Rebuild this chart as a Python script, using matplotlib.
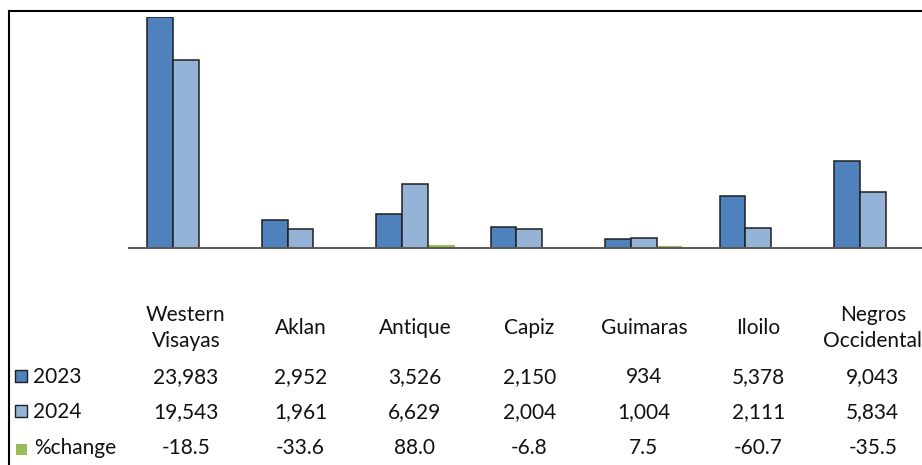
import matplotlib
matplotlib.use('Agg')
import matplotlib.pyplot as plt
import matplotlib.transforms as mtransforms
from matplotlib.lines import Line2D
from matplotlib.patches import Rectangle
import numpy as np

categories = ["Western\nVisayas", "Aklan", "Antique", "Capiz", "Guimaras", "Iloilo", "Negros\nOccidental"]
values_2023 = [23983, 2952, 3526, 2150, 934, 5378, 9043]
values_2024 = [19543, 1961, 6629, 2004, 1004, 2111, 5834]
pct_change = [-18.5, -33.6, 88.0, -6.8, 7.5, -60.7, -35.5]
series_names = ["2023", "2024", "%change"]

C23 = '#4F81BD'
C24 = '#95B3D7'
CPC = '#9BBB59'
EDGE = '#1f1f1f'
TXT = '#111111'
FONT = 'Lato'
FS = 15

W, H = 922, 465
fig = plt.figure(figsize=(W / 100, H / 100), dpi=100)
fx = lambda px: px / W
fy = lambda py: 1 - py / H

ax = fig.add_axes([fx(128.75), fy(248), fx(930 - 128.75), 231 / H])
x = np.arange(len(categories))
bw = 0.225
ax.bar(x - bw, values_2023, bw, color=C23, edgecolor=EDGE, linewidth=1.1, zorder=1)
ax.bar(x, values_2024, bw, color=C24, edgecolor=EDGE, linewidth=1.1, zorder=1)
# negative bars lie hidden beneath the axis line (as in the reference)
green_lw = [3.0 if p > 0 else 0.0 for p in pct_change]
ax.bar(x + bw, pct_change, bw * 0.93, color=CPC, edgecolor=CPC, linewidth=green_lw, zorder=0.5)
ax.set_xlim(-0.5, len(categories) - 0.5)
ax.set_ylim(0, 24000)
for s in ['top', 'right', 'left']:
    ax.spines[s].set_visible(False)
ax.spines['bottom'].set_color('#595959')
ax.spines['bottom'].set_linewidth(1.4)
ax.set_xticks([])
ax.set_yticks([])
ax.patch.set_alpha(0)

trans = mtransforms.blended_transform_factory(ax.transData, fig.transFigure)

# category labels
for xi, cat in zip(x, categories):
    lines = cat.split('\n')
    if len(lines) == 2:
        fig.text(xi, fy(320.7), lines[0], transform=trans, ha='center', va='baseline',
                 fontsize=FS, family=FONT, color=TXT)
        fig.text(xi, fy(346.7), lines[1], transform=trans, ha='center', va='baseline',
                 fontsize=FS, family=FONT, color=TXT)
    else:
        fig.text(xi, fy(334.3), lines[0], transform=trans, ha='center', va='baseline',
                 fontsize=FS, family=FONT, color=TXT)

rows = [
    (series_names[0], [f"{v:,}" for v in values_2023], 382.7, C23, True),
    (series_names[1], [f"{v:,}" for v in values_2024], 417.7, C24, True),
    (series_names[2], [f"{v:.1f}" for v in pct_change], 454.3, CPC, False),
]
for name, vals, base, col, outline in rows:
    for xi, s in zip(x, vals):
        fig.text(xi, fy(base), s, transform=trans, ha='center', va='baseline',
                 fontsize=FS, family=FONT, color=TXT)
    if outline:
        fig.add_artist(Rectangle((fx(14.5), fy(base - 0.5)), fx(12), 12 / H, transform=fig.transFigure,
                                 facecolor=col, edgecolor=EDGE, linewidth=1.0))
        fig.text(fx(33), fy(base), name, ha='left', va='baseline', fontsize=FS, family=FONT, color=TXT)
    else:
        fig.add_artist(Rectangle((fx(15.5), fy(base + 0.5)), fx(11), 11 / H, transform=fig.transFigure,
                                 facecolor=col, edgecolor='none'))
        fig.text(fx(34), fy(base), name, ha='left', va='baseline', fontsize=FS, family=FONT, color=TXT)

# outer frame (cropped chart border)
fig.add_artist(Line2D([fx(9), fx(9)], [0, fy(11)], color='black', linewidth=1.5, transform=fig.transFigure))
fig.add_artist(Line2D([fx(9), 1], [fy(11), fy(11)], color='black', linewidth=1.5, transform=fig.transFigure))

fig.savefig('out.png', dpi=100)
